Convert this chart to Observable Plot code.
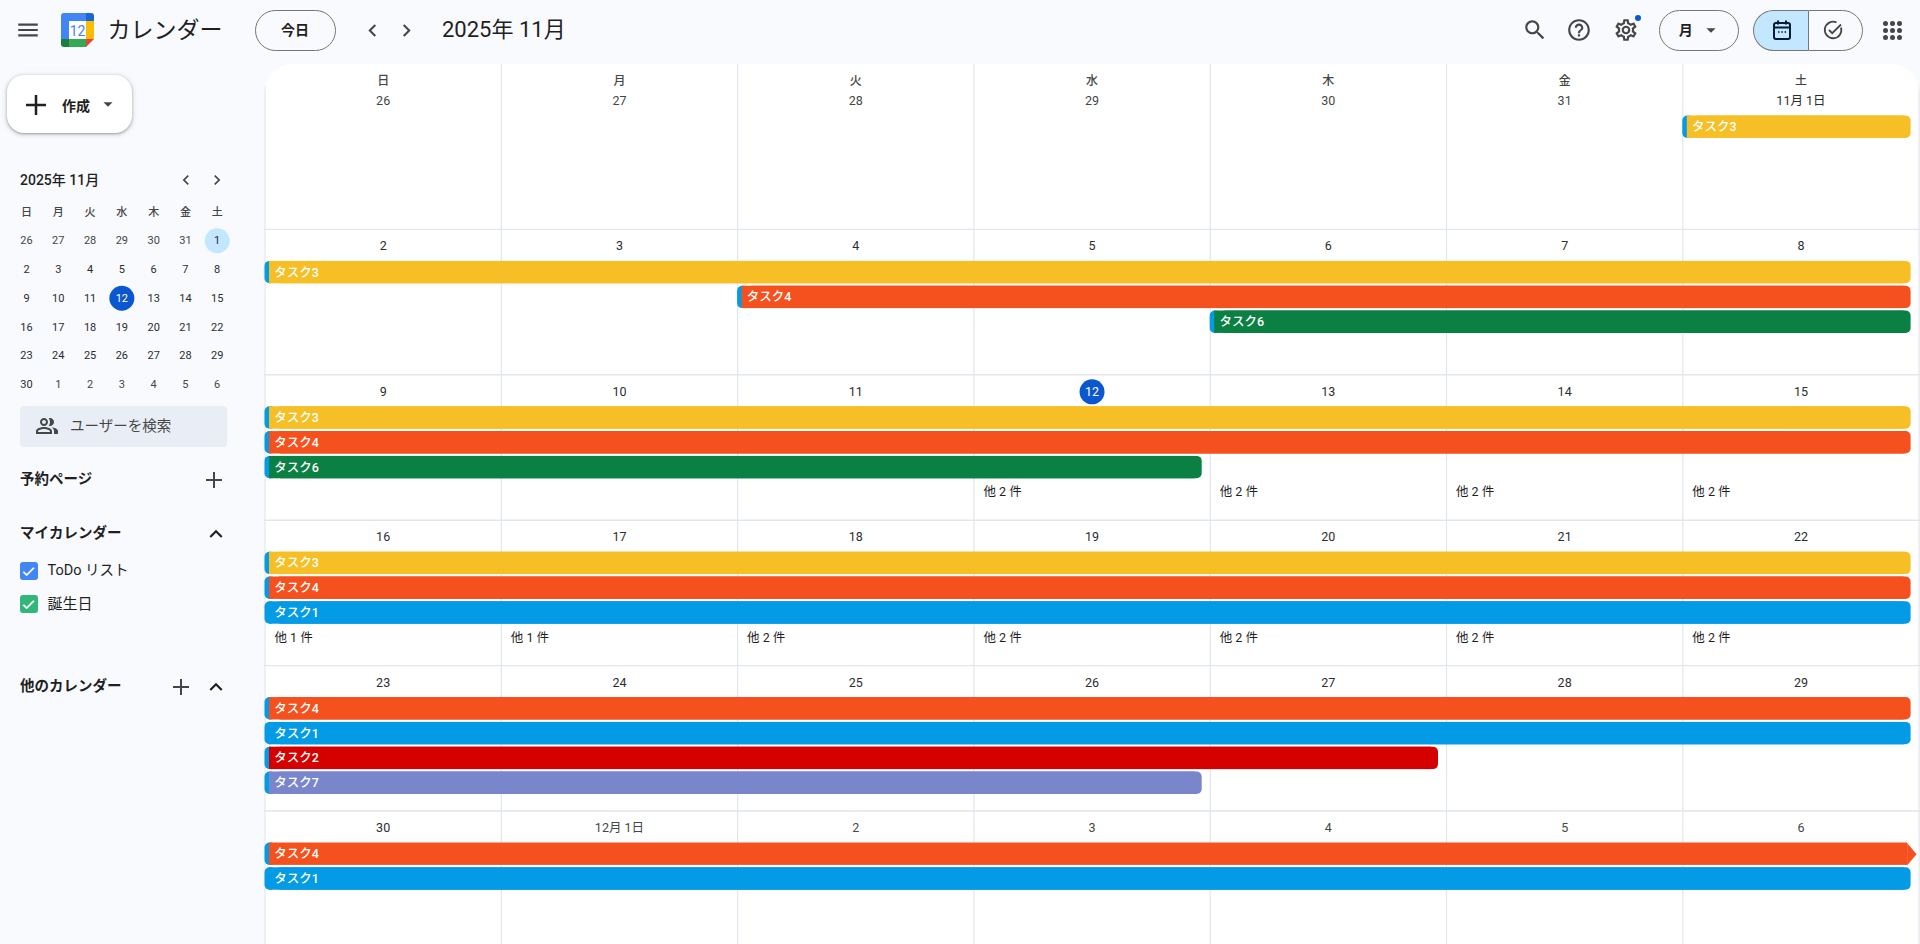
<!DOCTYPE html>
<html lang="ja">
<head>
<meta charset="utf-8">
<title>カレンダー</title>
<script src="https://cdn.jsdelivr.net/npm/d3@7"></script>
<script src="https://cdn.jsdelivr.net/npm/@observablehq/plot@0.6"></script>
<style>
  html, body { margin: 0; padding: 0; width: 1920px; height: 944px; overflow: hidden; background: #f8fafd; }
  body, svg text { font-family: Roboto, "Noto Sans CJK JP", sans-serif; }
  .t { position: absolute; white-space: nowrap; line-height: 1; transform: translateY(-50%); color: #1f1f1f; }
  .b { position: absolute; box-sizing: border-box; }
  .pill { border: 1px solid #747775; border-radius: 21px; height: 41px; top: 9.5px; }
  .i { position: absolute; }
</style>
</head>
<body>
<div id="chrome"></div>
<div id="mini" style="position:absolute;left:10px;top:196px"></div>
<div id="main" style="position:absolute;left:264px;top:64px"></div>
<script>
// ---- calendar data ----
const weekdays = ["日", "月", "火", "水", "木", "金", "土"];
const dateLabels = [
  ["26", "27", "28", "29", "30", "31", "11月 1日"],
  ["2", "3", "4", "5", "6", "7", "8"],
  ["9", "10", "11", "12", "13", "14", "15"],
  ["16", "17", "18", "19", "20", "21", "22"],
  ["23", "24", "25", "26", "27", "28", "29"],
  ["30", "12月 1日", "2", "3", "4", "5", "6"]
];
const inMonth = [
  [0, 0, 0, 0, 0, 0, 1],
  [1, 1, 1, 1, 1, 1, 1],
  [1, 1, 1, 1, 1, 1, 1],
  [1, 1, 1, 1, 1, 1, 1],
  [1, 1, 1, 1, 1, 1, 1],
  [1, 0, 0, 0, 0, 0, 0]
];
const todayCell = {week: 2, day: 3, label: "12"};
const firstCell = {week: 0, day: 6, label: "1"};

const taskNames = ["タスク3", "タスク3", "タスク4", "タスク6", "タスク3", "タスク4", "タスク6", "タスク3", "タスク4", "タスク1", "タスク4", "タスク1", "タスク2", "タスク7", "タスク4", "タスク1"];
const taskWeeks = [0, 1, 1, 1, 2, 2, 2, 3, 3, 3, 4, 4, 4, 4, 5, 5];
const taskLanes = [0, 0, 1, 2, 0, 1, 2, 0, 1, 2, 0, 1, 2, 3, 0, 1];
const taskStarts = [6, 0, 2, 4, 0, 0, 0, 0, 0, 0, 0, 0, 0, 0, 0, 0];
const taskEnds = [7, 7, 7, 7, 7, 7, 4, 7, 7, 7, 7, 7, 5, 4, 7, 7];
const taskContinues = [0, 0, 0, 0, 0, 0, 0, 0, 0, 0, 0, 0, 0, 0, 1, 0];

const taskColorNames = ["タスク1", "タスク2", "タスク3", "タスク4", "タスク6", "タスク7"];
const taskColorValues = ["#039be5", "#d50000", "#f6bf26", "#f4511e", "#0b8043", "#7986cb"];

const moreWeeks = [2, 2, 2, 2, 3, 3, 3, 3, 3, 3, 3];
const moreDays = [3, 4, 5, 6, 0, 1, 2, 3, 4, 5, 6];
const moreCounts = [2, 2, 2, 2, 1, 1, 2, 2, 2, 2, 2];

const miniDays = [
  [26, 27, 28, 29, 30, 31, 1],
  [2, 3, 4, 5, 6, 7, 8],
  [9, 10, 11, 12, 13, 14, 15],
  [16, 17, 18, 19, 20, 21, 22],
  [23, 24, 25, 26, 27, 28, 29],
  [30, 1, 2, 3, 4, 5, 6]
];

// ---- layout (px) ----
const ROW = 145.4, HEAD = 19.5, H = 880, W = 1656, COL = 236.3;
const laneTop = l => (32 + 24.8 * l) / ROW;
const BAR = 22.4 / ROW;
const stripeW = 11 / COL;

const colorOf = d3.scaleOrdinal(taskColorNames, taskColorValues);
const tasks = taskNames.map((name, i) => ({
  name, week: taskWeeks[i], lane: taskLanes[i], start: taskStarts[i], end: taskEnds[i], cont: taskContinues[i],
  y1: taskWeeks[i] + laneTop(taskLanes[i]), y2: taskWeeks[i] + laneTop(taskLanes[i]) + BAR, color: colorOf(name)
}));
const closed = tasks.filter(d => !d.cont), open = tasks.filter(d => d.cont);
const cells = dateLabels.flatMap((row, week) => row.map((label, day) => ({label, week, day, cur: inMonth[week][day]})));
const more = moreWeeks.map((week, i) => ({week, day: moreDays[i], label: `他 ${moreCounts[i]} 件`}));
const FONT = 'Roboto, "Noto Sans CJK JP", sans-serif';
const grid = "#e1e6ed";
const isToday = d => d.week === todayCell.week && d.day === todayCell.day;

const main = Plot.plot({
  width: W, height: H, margin: 0,
  style: {background: "#fff", borderRadius: "30px 30px 0 0", display: "block", maxWidth: "none", fontFamily: FONT, overflow: "hidden"},
  x: {domain: [0, 7], range: [0.5, 0.5 + 7 * COL], axis: null},
  y: {domain: [-HEAD / ROW, (H - HEAD) / ROW], range: [0, H], axis: null},
  marks: [
    Plot.ruleX(d3.range(0, 8), {stroke: grid, strokeWidth: 1.2}),
    Plot.ruleY(d3.range(1, 6), {stroke: grid, strokeWidth: 1.4}),
    // weekday header
    Plot.text(weekdays, {x: (d, i) => i + 0.5, y: -3 / ROW, text: d => d, fontSize: 12, fontWeight: 500, fill: "#444746"}),
    // today marker
    Plot.dot([todayCell], {x: d => d.day + 0.5, y: d => d.week + 17 / ROW, r: 12.5, fill: "#0b57d0"}),
    // dates
    Plot.text(cells, {
      x: d => d.day + 0.5, y: d => d.week + 17 / ROW, text: "label", fontSize: 12.5,
      fontWeight: d => d.cur ? 500 : 400,
      fill: d => isToday(d) ? "#fff" : (d.cur ? "#2b2d30" : "#444746")
    }),
    // bars: left stripe
    Plot.rect(tasks, {x1: "start", x2: d => d.start + stripeW, y1: "y1", y2: "y2", fill: "#039be5", rx: 5}),
    // bars: square body
    Plot.rect(closed, {x1: "start", x2: "end", y1: "y1", y2: "y2", fill: "color", insetLeft: 4.5, insetRight: 15}),
    Plot.rect(closed, {x1: d => d.start + stripeW, x2: "end", y1: "y1", y2: "y2", fill: "color", insetRight: 8, rx: 5}),
    Plot.rect(open, {x1: "start", x2: "end", y1: "y1", y2: "y2", fill: "color", insetLeft: 4.5, insetRight: 11.5}),
    Plot.dot(open, {
      x: "end", y: d => (d.y1 + d.y2) / 2, dx: -12, fill: "color", stroke: "none",
      symbol: {draw(c) { c.moveTo(0, -11.2); c.lineTo(9.5, 0); c.lineTo(0, 11.2); c.closePath(); }}
    }),
    Plot.text(tasks, {
      x: "start", y: d => (d.y1 + d.y2) / 2, text: "name", dx: 9.2, textAnchor: "start",
      fill: "#fff", fontSize: 12.5, fontWeight: 500
    }),
    // overflow labels
    Plot.text(more, {
      x: "day", y: d => d.week + laneTop(3) + BAR / 2, text: "label", dx: 9.5, textAnchor: "start",
      fill: "#1f1f1f", fontSize: 12.5, fontWeight: 400
    })
  ]
});
document.getElementById("main").append(main);

// ---- mini calendar ----
const miniCells = miniDays.flatMap((r, week) => r.map((label, day) => ({label, week, day, cur: inMonth[week][day]})));
const mini = Plot.plot({
  width: 232, height: 204, margin: 0,
  style: {background: "transparent", display: "block", maxWidth: "none", fontFamily: FONT},
  x: {domain: [0, 6], range: [16, 206.7], axis: null},
  y: {domain: [-1, 5], range: [15.5, 188], axis: null},
  marks: [
    Plot.text(weekdays, {x: (d, i) => i, y: -1, text: d => d, fontSize: 11, fontWeight: 500, fill: "#444746"}),
    Plot.dot([firstCell], {x: "day", y: "week", r: 12.5, fill: "#c2e7ff"}),
    Plot.dot([todayCell], {x: "day", y: "week", r: 12.5, fill: "#0b57d0"}),
    Plot.text(miniCells, {
      x: "day", y: "week", text: "label", fontSize: 11,
      fontWeight: d => d.cur ? 500 : 400,
      fill: d => isToday(d) ? "#fff" : (d.cur ? "#2b2d30" : "#444746")
    })
  ]
});
document.getElementById("mini").append(mini);

// ---- application chrome ----
const chrome = document.getElementById("chrome");
const P = {
  menu: "M3 18h18v-2H3v2zm0-5h18v-2H3v2zm0-7v2h18V6H3z",
  left: "M15.4 7.4 14 6l-6 6 6 6 1.4-1.4L10.8 12z",
  right: "M8.6 7.4 10 6l6 6-6 6-1.4-1.4 4.6-4.6z",
  up: "M12 8l-6 6 1.4 1.4L12 10.8l4.6 4.6L18 14z",
  caret: "M7 10l5 5 5-5z",
  plus: "M20 13h-7v7h-2v-7H4v-2h7V4h2v7h7z",
  search: "M15.5 14h-.79l-.28-.27C15.41 12.59 16 11.11 16 9.5 16 5.91 13.09 3 9.5 3S3 5.91 3 9.5 5.91 16 9.5 16c1.61 0 3.09-.59 4.23-1.57l.27.28v.79l5 4.99L20.49 19l-4.99-5zm-6 0C7.01 14 5 11.99 5 9.5S7.01 5 9.5 5 14 7.01 14 9.5 11.99 14 9.5 14z",
  help: "M11 18h2v-2h-2v2zm1-16C6.48 2 2 6.48 2 12s4.48 10 10 10 10-4.48 10-10S17.52 2 12 2zm0 18c-4.41 0-8-3.59-8-8s3.59-8 8-8 8 3.59 8 8-3.59 8-8 8zm0-14c-2.21 0-4 1.79-4 4h2c0-1.1.9-2 2-2s2 .9 2 2c0 2-3 1.75-3 5h2c0-2.25 3-2.5 3-5 0-2.21-1.79-4-4-4z",
  gear: "M19.43 12.98c.04-.32.07-.64.07-.98 0-.34-.03-.66-.07-.98l2.11-1.65c.19-.15.24-.42.12-.64l-2-3.46c-.09-.16-.26-.25-.44-.25-.06 0-.12.01-.17.03l-2.49 1c-.52-.4-1.08-.73-1.69-.98l-.38-2.65C14.46 2.18 14.25 2 14 2h-4c-.25 0-.46.18-.49.42l-.38 2.65c-.61.25-1.17.59-1.69.98l-2.49-1c-.06-.02-.12-.03-.18-.03-.17 0-.34.09-.43.25l-2 3.46c-.13.22-.07.49.12.64l2.11 1.65c-.04.32-.07.65-.07.98 0 .33.03.66.07.98l-2.11 1.65c-.19.15-.24.42-.12.64l2 3.46c.09.16.26.25.44.25.06 0 .12-.01.17-.03l2.49-1c.52.4 1.08.73 1.69.98l.38 2.65c.03.24.24.42.49.42h4c.25 0 .46-.18.49-.42l.38-2.65c.61-.25 1.17-.59 1.69-.98l2.49 1c.06.02.12.03.18.03.17 0 .34-.09.43-.25l2-3.46c.12-.22.07-.49-.12-.64l-2.11-1.65zm-1.98-1.71c.04.31.05.52.05.73 0 .21-.02.43-.05.73l-.14 1.13.89.7 1.08.84-.7 1.21-1.27-.51-1.04-.42-.9.68c-.43.32-.84.56-1.25.73l-1.06.43-.16 1.13-.2 1.35h-1.4l-.19-1.35-.16-1.13-1.06-.43c-.43-.18-.83-.41-1.23-.71l-.91-.7-1.06.43-1.27.51-.7-1.21 1.08-.84.89-.7-.14-1.13c-.03-.31-.05-.54-.05-.74s.02-.43.05-.73l.14-1.13-.89-.7-1.08-.84.7-1.21 1.27.51 1.04.42.9-.68c.43-.32.84-.56 1.25-.73l1.06-.43.16-1.13.2-1.35h1.39l.19 1.35.16 1.13 1.06.43c.43.18.83.41 1.23.71l.91.7 1.06-.43 1.27-.51.7 1.21-1.07.85-.89.7.14 1.13zM12 8c-2.21 0-4 1.79-4 4s1.79 4 4 4 4-1.79 4-4-1.79-4-4-4zm0 6c-1.1 0-2-.9-2-2s.9-2 2-2 2 .9 2 2-.9 2-2 2z",
  people: "M16.67 13.13C18.04 14.06 19 15.32 19 17v3h4v-3c0-2.18-3.57-3.47-6.33-3.87zM15 12c2.21 0 4-1.79 4-4s-1.79-4-4-4c-.47 0-.91.1-1.33.24C14.5 5.27 15 6.58 15 8s-.5 2.73-1.33 3.76c.42.14.86.24 1.33.24zM9 12c2.21 0 4-1.79 4-4s-1.79-4-4-4-4 1.79-4 4 1.79 4 4 4zm0-6c1.1 0 2 .9 2 2s-.9 2-2 2-2-.9-2-2 .9-2 2-2zM9 13c-2.67 0-8 1.34-8 4v3h16v-3c0-2.66-5.33-4-8-4zm6 5H3v-.99C3.2 16.29 6.3 15 9 15s5.8 1.29 6 2v1z",
  check: "M9 16.2 4.8 12l-1.4 1.4L9 19 21 7l-1.4-1.4z"
};
function icon(d, cx, cy, size, color = "#444746", stroke = "none") {
  chrome.insertAdjacentHTML("beforeend",
    `<svg class="i" viewBox="0 0 24 24" width="${size}" height="${size}" style="left:${cx - size / 2}px;top:${cy - size / 2}px"><path d="${d}" fill="${color}" stroke="${stroke}"/></svg>`);
}
function text(s, x, y, size, weight = 400, color = "#1f1f1f", center = false) {
  chrome.insertAdjacentHTML("beforeend",
    `<div class="t" style="left:${x}px;top:${y}px;font-size:${size}px;font-weight:${weight};color:${color};${center ? "transform:translate(-50%,-50%);" : ""}">${s}</div>`);
}
function box(x, y, w, h, css) {
  chrome.insertAdjacentHTML("beforeend", `<div class="b" style="left:${x}px;top:${y}px;width:${w}px;height:${h}px;${css}"></div>`);
}

// top bar
icon(P.menu, 28, 30, 26);
chrome.insertAdjacentHTML("beforeend", `<svg class="i" style="left:61px;top:13px" width="33" height="34" viewBox="0 0 33 34">
  <path d="M8 0h17v8H8z" fill="#4285f4"/><path d="M3 0h5v8 18H0V3a3 3 0 0 1 3-3z" fill="#4285f4"/>
  <path d="M25 0h5a3 3 0 0 1 3 3v5h-8z" fill="#1967d2"/><path d="M25 8h8v18h-8z" fill="#fbbc04"/>
  <path d="M8 26h17v8H8z" fill="#34a853"/><path d="M0 26h8v8H3a3 3 0 0 1-3-3z" fill="#188038"/>
  <path d="M25 26h8l-8 8z" fill="#ea4335"/><path d="M8 8h17v18H8z" fill="#fff"/>
  <text x="16.5" y="22.5" text-anchor="middle" font-size="14" font-weight="400" fill="#4285f4">12</text></svg>`);
text("カレンダー", 107.5, 30, 23);
box(254.5, 9.5, 81, 41, ""); chrome.lastElementChild.classList.add("pill");
text("今日", 295, 30, 14, 600, "#1f1f1f", true);
icon(P.left, 372, 30, 25); icon(P.right, 406, 30, 25);
text("2025年 11月", 442, 30, 22);
icon(P.search, 1535, 30, 26); icon(P.help, 1578.5, 30, 26); icon(P.gear, 1626, 30, 26);
box(1634.7, 15.3, 6, 6, "background:#0b57d0;border-radius:50%");
box(1659.3, 9.5, 80, 41, ""); chrome.lastElementChild.classList.add("pill");
text("月", 1685.7, 30, 14, 600, "#1f1f1f", true);
icon(P.caret, 1711, 30, 22);
box(1752.7, 9.5, 55, 41, "background:#c2e7ff;border-radius:21px 0 0 21px;border:1px solid #747775;border-right:0");
box(1807.7, 9.5, 55, 41, "border-radius:0 21px 21px 0;border:1px solid #747775");
chrome.insertAdjacentHTML("beforeend", `<svg class="i" style="left:1770px;top:18px" width="24" height="24" viewBox="0 0 24 24" fill="none" stroke="#001d35" stroke-width="2"><rect x="4" y="5" width="16" height="16" rx="2"/><path d="M4 9.5h16M8 2.5v4M16 2.5v4"/><path d="M8 14h1.5M11.3 14h1.5M14.6 14h1.5" stroke-width="1.6"/></svg>`);
chrome.insertAdjacentHTML("beforeend", `<svg class="i" style="left:1821px;top:18px" width="24" height="24" viewBox="0 0 24 24" fill="none" stroke="#444746" stroke-width="1.8"><path d="M20 9.5A8.3 8.3 0 1 1 15.5 4.4"/><path d="M8 12l3.2 3.2L20 6.5"/></svg>`);
d3.range(3).forEach(r => d3.range(3).forEach(c => box(1892 - 8 + c * 7 - 1 , 30 - 8 + r * 7 - 1, 5, 5, "background:#444746;border-radius:50%")));

// create button
box(7, 75, 124.7, 58, "background:#fff;border-radius:17px;box-shadow:0 1px 2px rgba(60,64,67,.35),0 1px 4px 1px rgba(60,64,67,.2)");
icon(P.plus, 36, 105, 30, "#1f1f1f");
text("作成", 76, 105.5, 14, 600, "#1f1f1f", true);
icon(P.caret, 108, 104, 22);

// mini calendar header
text("2025年 11月", 20, 180, 14, 500);
icon(P.left, 186, 180, 20); icon(P.right, 217, 180, 20);

// people search
box(19.6, 405.5, 207, 41, "background:#e9eef6;border-radius:4px");
icon(P.people, 47, 426, 24);
text("ユーザーを検索", 70, 426.5, 14.5, 400, "#444746");

// sections
text("予約ページ", 20, 480, 14.5, 600);
icon(P.plus, 214, 480, 24);
text("マイカレンダー", 20, 534, 14.5, 600);
icon(P.up, 216, 534, 26, "#1f1f1f");
box(19.5, 562, 18, 18, "background:#4285f4;border-radius:3px");
icon(P.check, 28.5, 571, 15, "#fff", "#fff");
text("ToDo リスト", 47.5, 571, 14.5);
box(19.5, 595, 18, 18, "background:#33b679;border-radius:3px");
icon(P.check, 28.5, 604, 15, "#fff", "#fff");
text("誕生日", 47.5, 604, 15);
text("他のカレンダー", 20, 687, 14.5, 600);
icon(P.plus, 181, 687, 24);
icon(P.up, 216, 687, 26, "#1f1f1f");
</script>
</body>
</html>
